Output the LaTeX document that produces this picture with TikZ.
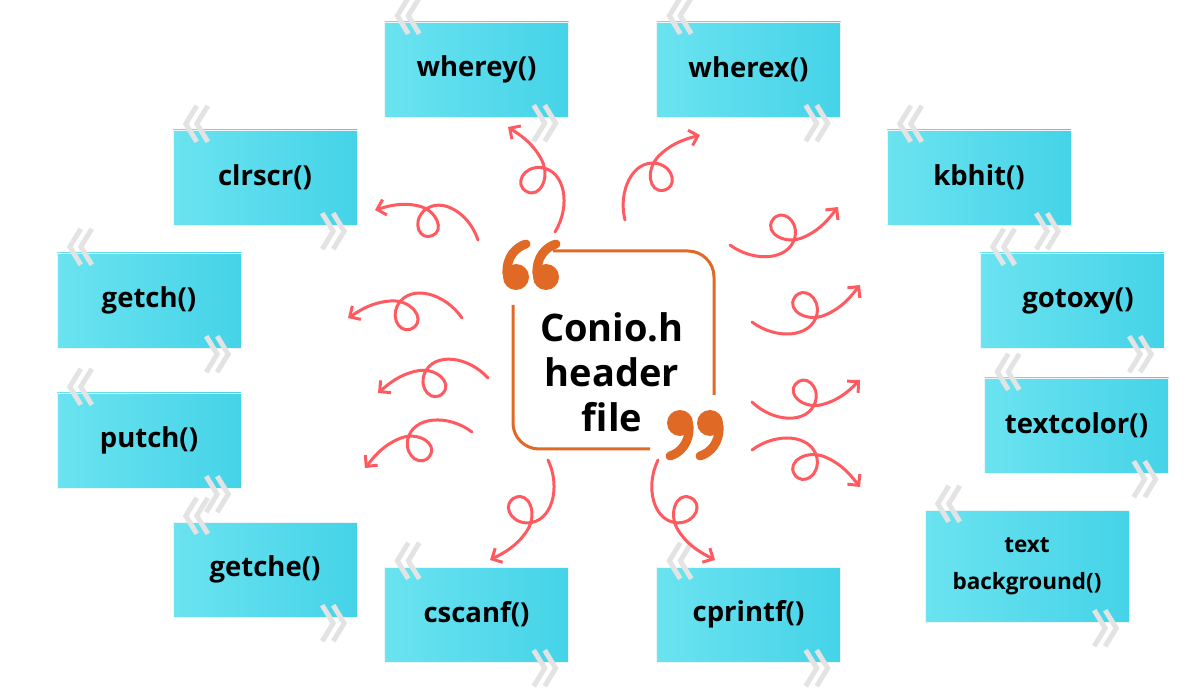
\documentclass[tikz,border=0pt]{standalone}
\usepackage{fontspec}
\setmainfont{Open Sans}
\usetikzlibrary{arrows.meta}
\definecolor{curlc}{HTML}{FF5A5F}
\definecolor{orq}{HTML}{E06A25}
\definecolor{cyA}{HTML}{6BE3F0}
\definecolor{cyB}{HTML}{45D3E8}
\tikzset{
  fbox/.style={draw=cyB!80!black!10, fill=cyB, left color=cyA, right color=cyB, minimum width=184pt, minimum height=95pt, font=\fontsize{27.5}{32}\selectfont\bfseries, align=center, inner sep=0pt},
  chevl/.style={draw=gray!22, line width=5pt, line join=miter},
  curlstyle/.style={draw=curlc, line width=3pt, line cap=round, -{Straight Barb[length=8pt,width=16pt,line width=3pt]}},
  qtail/.style={draw=orq, line width=9pt, line cap=round},
}
\newcommand\chev[1]{%
  \draw[chevl] ([shift={(24pt,-12pt)}]#1.north west) -- ([shift={(13pt,6pt)}]#1.north west) -- ([shift={(24pt,24pt)}]#1.north west);
  \draw[chevl] ([shift={(35pt,-12pt)}]#1.north west) -- ([shift={(24pt,6pt)}]#1.north west) -- ([shift={(35pt,24pt)}]#1.north west);
  \draw[chevl] ([shift={(-35pt,-24pt)}]#1.south east) -- ([shift={(-24pt,-6pt)}]#1.south east) -- ([shift={(-35pt,12pt)}]#1.south east);
  \draw[chevl] ([shift={(-24pt,-24pt)}]#1.south east) -- ([shift={(-13pt,-6pt)}]#1.south east) -- ([shift={(-24pt,12pt)}]#1.south east);
}
\newcommand\curl[5]{%
  \pgfmathsetmacro\cang{atan2(-(#4-#2),#3-#1)}%
  \pgfmathsetmacro\clen{veclen(#3-#1,#4-#2)/100}%
  \begin{scope}[shift={(#1,#2)},rotate=\cang,scale=\clen,yscale=#5]
    \draw[curlstyle] (0,0) .. controls (15,22) and (45,30) .. (56,12) .. controls (64,-2) and (52,-16) .. (42,-8) .. controls (32,0) and (45,16) .. (62,15) .. controls (80,14) and (92,5) .. (100,0);
  \end{scope}}
% opening quote mark (66) with bulb centre at #1,#2
\newcommand\qopen[2]{%
  \fill[orq] (#1,#2) circle (13pt);
  \draw[qtail] (#1-9,#2-3) .. controls (#1-10,#2-20) and (#1,#2-30) .. (#1+10,#2-33);}
\newcommand\qclose[2]{%
  \fill[orq] (#1,#2) circle (13pt);
  \draw[qtail] (#1+9,#2+3) .. controls (#1+10,#2+20) and (#1,#2+30) .. (#1-10,#2+33);}
\begin{document}
\begin{tikzpicture}[x=1pt,y=-1pt]
\useasboundingbox (0,0) rectangle (1200,700);
\node[fbox] (wherey) at (476.5,69.5) {wherey()};
\node[fbox] (wherex) at (748.5,69.5) {wherex()};
\node[fbox] (clrscr) at (265,177.5) {clrscr()};
\node[fbox] (kbhit) at (979,177.5) {kbhit()};
\node[fbox] (getch) at (149,300.5) {getch()};
\node[fbox] (gotoxy) at (1072,300.5) {\raisebox{-12pt}{\hspace{12pt}gotoxy()}};
\node[fbox] (putch) at (149,440.5) {putch()};
\node[fbox] (textcolor) at (1076.5,425.5) {\raisebox{-6pt}{textcolor()}};
\node[fbox] (getche) at (265,569.5) {getche()};
\node[fbox, minimum width=204pt, minimum height=112pt, font=\fontsize{22.5}{37}\selectfont\bfseries] (textbg) at (1027,566) {text\\background()};
\node[fbox] (cscanf) at (476.5,614.5) {cscanf()};
\node[fbox] (cprintf) at (748.5,614.5) {cprintf()};
\foreach \n in {wherey,wherex,clrscr,kbhit,getch,gotoxy,putch,textcolor,getche,textbg,cscanf,cprintf} {\chev{\n}}
% center
\draw[orq, line width=3pt, rounded corners=26pt] (553,251) -- (714,251) -- (714,395);
\draw[orq, line width=3pt, rounded corners=26pt] (513,305) -- (513,449) -- (650,449);
\qopen{516}{277}
\qopen{546}{277}
\qclose{680}{423}
\qclose{710}{423}
\node[align=center, font=\fontsize{38}{45}\selectfont\bfseries] (center) at (612,372) {Conio.h\\header\\file};
% curls
\curl{555}{232}{508}{127}{1}
\curl{625}{220}{700}{135}{-1}
\curl{478}{240}{375}{210}{1}
\curl{730}{245}{838}{207}{1}
\curl{462}{318}{348}{318}{1}
\curl{752}{322}{860}{285}{1}
\curl{488}{378}{378}{393}{1}
\curl{752}{402}{860}{380}{1}
\curl{472}{432}{365}{468}{1}
\curl{752}{450}{860}{487}{-1}
\curl{548}{460}{490}{560}{-1}
\curl{658}{460}{715}{560}{1}
\end{tikzpicture}
\end{document}
